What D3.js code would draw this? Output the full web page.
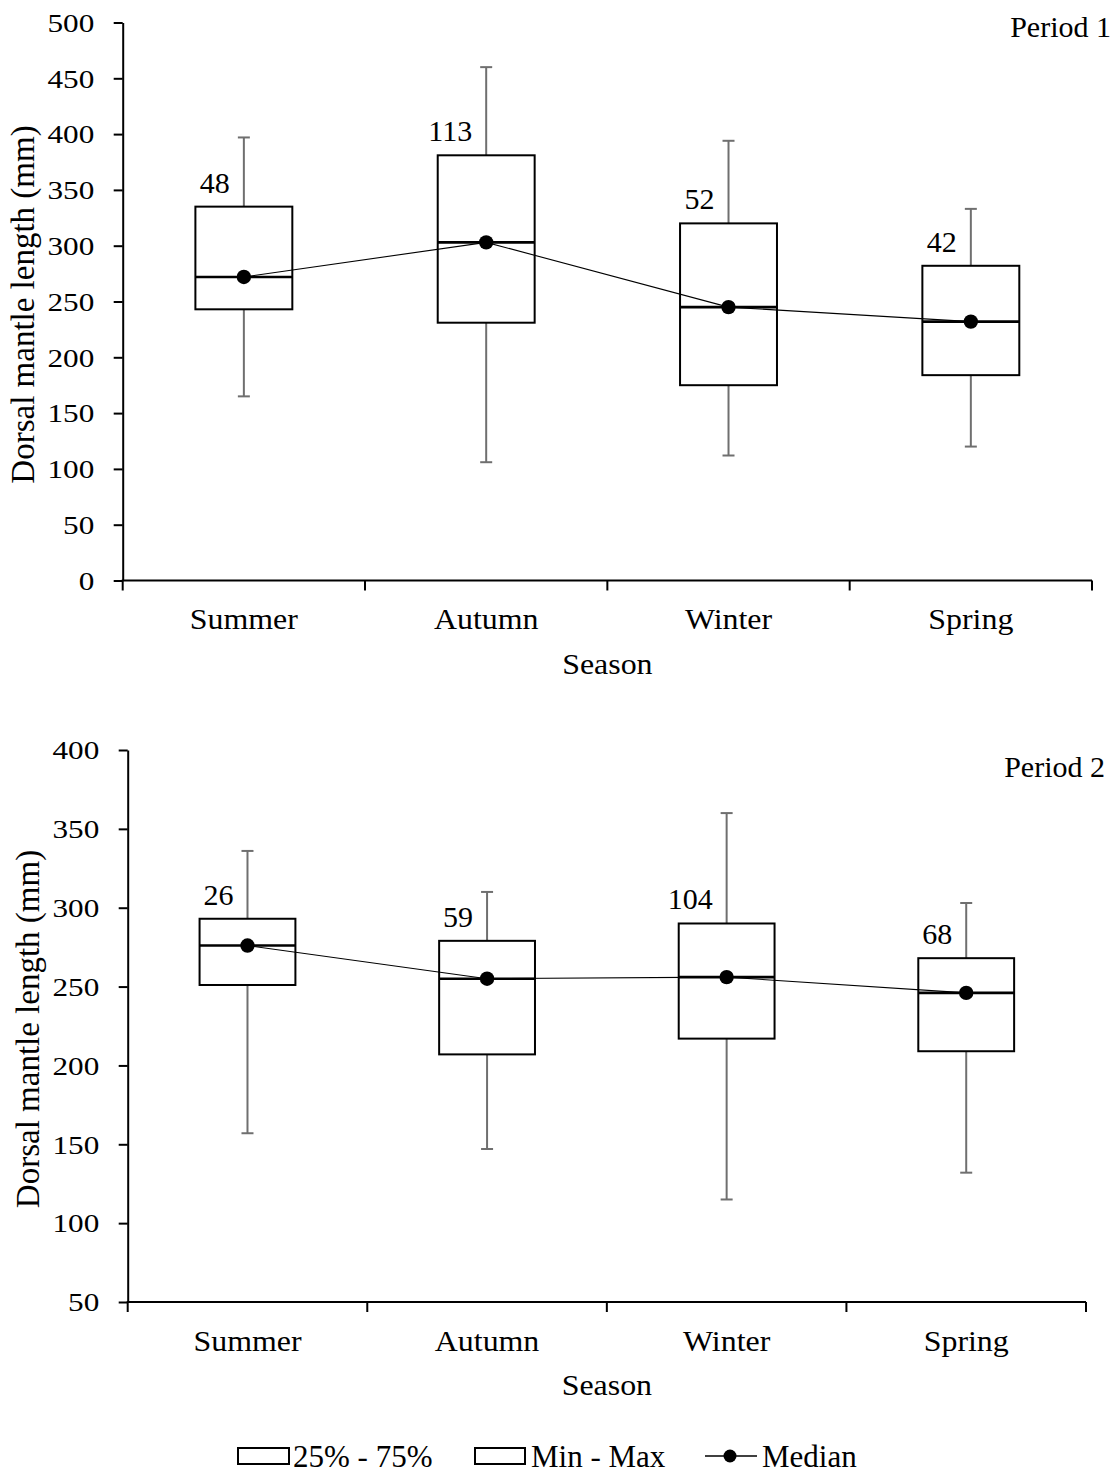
<!DOCTYPE html>
<html>
<head>
<meta charset="utf-8">
<script src="https://cdn.jsdelivr.net/npm/d3@7"></script>
<style>
  html, body { margin: 0; padding: 0; background: #fff; }
  svg { display: block; }
  text { font-family: "Liberation Serif", "Times New Roman", serif; fill: #000; }
</style>
</head>
<body>
<svg id="chart" width="1115" height="1476"></svg>
<script>
// ---------- data ----------
const categories = ["Summer", "Autumn", "Winter", "Spring"];

const p1Min    = [165, 106, 112, 120];
const p1Q1     = [243, 231, 175, 184];
const p1Median = [272, 303, 245, 232];
const p1Q3     = [335, 381, 320, 282];
const p1Max    = [397, 460, 394, 333];
const p1N      = [48, 113, 52, 42];
const p1Ticks  = [0, 50, 100, 150, 200, 250, 300, 350, 400, 450, 500];

const p2Min    = [157, 147, 115, 132];
const p2Q1     = [251, 207, 217, 209];
const p2Median = [276, 255, 256, 246];
const p2Q3     = [293, 279, 290, 268];
const p2Max    = [336, 310, 360, 303];
const p2N      = [26, 59, 104, 68];
const p2Ticks  = [50, 100, 150, 200, 250, 300, 350, 400];

const yTitle = "Dorsal mantle length (mm)";
const xTitle = "Season";
const legendLabels = ["25% - 75%", "Min - Max", "Median"];

// ---------- layout ----------
const panels = [
  { title: "Period 1", min: p1Min, q1: p1Q1, med: p1Median, q3: p1Q3, max: p1Max, n: p1N,
    ticks: p1Ticks, domain: [0, 500], x0: 122.7, x1: 1092, yTop: 22.5, yBot: 580.5,
    titleX: 1111, titleY: 37 },
  { title: "Period 2", min: p2Min, q1: p2Q1, med: p2Median, q3: p2Q3, max: p2Max, n: p2N,
    ticks: p2Ticks, domain: [50, 400], x0: 127.7, x1: 1086, yTop: 750, yBot: 1302,
    titleX: 1105, titleY: 777 }
];

const svg = d3.select("#chart");
const whiskerColor = "#6f6f6f";

panels.forEach(p => {
  const g = svg.append("g");
  const x = d3.scaleBand().domain(categories).range([p.x0, p.x1])
    .paddingInner(0.6).paddingOuter(0.3);
  const y = d3.scaleLinear().domain(p.domain).range([p.yBot, p.yTop]);
  const step = x.step();
  const cx = c => x(c) + x.bandwidth() / 2;

  // y axis
  const yAxis = d3.axisLeft(y).tickValues(p.ticks).tickSize(9).tickSizeOuter(0)
    .tickFormat(d3.format("d"));
  const ya = g.append("g").attr("transform", `translate(${p.x0},0)`).call(yAxis);
  ya.select(".domain").attr("stroke", "#000").attr("stroke-width", 2);
  ya.selectAll(".tick line").attr("stroke", "#000").attr("stroke-width", 2);
  ya.selectAll(".tick text")
    .attr("font-size", 26)
    .attr("x", -28.4 / 1.2)
    .attr("dy", "0.34em")
    .attr("transform", "scale(1.2,1)")
    .style("font-family", '"Liberation Serif", "Times New Roman", serif');

  // x axis line + boundary ticks
  g.append("line")
    .attr("x1", p.x0 - 1).attr("x2", p.x1)
    .attr("y1", p.yBot).attr("y2", p.yBot)
    .attr("stroke", "#000").attr("stroke-width", 2);
  const bounds = d3.range(categories.length + 1).map(i => p.x0 + i * step);
  g.selectAll(".xb").data(bounds).join("line")
    .attr("x1", d => d).attr("x2", d => d)
    .attr("y1", p.yBot).attr("y2", p.yBot + 10)
    .attr("stroke", "#000").attr("stroke-width", 2);

  // category labels
  const xAxis = d3.axisBottom(x).tickSize(0).tickSizeOuter(0);
  const xa = g.append("g").attr("transform", `translate(0,${p.yBot})`).call(xAxis);
  xa.select(".domain").remove();
  xa.selectAll(".tick text")
    .attr("font-size", 29)
    .attr("y", 49).attr("dy", 0)
    .attr("transform", "scale(1.1,1)")
    .style("font-family", '"Liberation Serif", "Times New Roman", serif');

  // axis titles
  g.append("text")
    .attr("text-anchor", "middle")
    .attr("font-size", 29)
    .attr("transform", `translate(${(p.x0 + p.x1) / 2},${p.yBot + 93}) scale(1.1,1)`)
    .text(xTitle);
  g.append("text")
    .attr("text-anchor", "middle")
    .attr("font-size", 33)
    .attr("transform", `translate(${p.x0 - 89},${(p.yTop + p.yBot) / 2 + 3}) rotate(-90)`)
    .text(yTitle);

  // period label
  g.append("text")
    .attr("text-anchor", "end")
    .attr("font-size", 30)
    .attr("x", p.titleX).attr("y", p.titleY)
    .text(p.title);

  const idx = categories.map((c, i) => i);

  // whiskers
  const capW = 12;
  idx.forEach(i => {
    const c = cx(categories[i]);
    const segs = [[p.q3[i], p.max[i]], [p.q1[i], p.min[i]]];
    segs.forEach(([a, b]) => {
      g.append("line").attr("x1", c).attr("x2", c)
        .attr("y1", y(a)).attr("y2", y(b))
        .attr("stroke", whiskerColor).attr("stroke-width", 2);
      g.append("line").attr("x1", c - capW / 2).attr("x2", c + capW / 2)
        .attr("y1", y(b)).attr("y2", y(b))
        .attr("stroke", whiskerColor).attr("stroke-width", 2);
    });
  });

  // boxes
  g.selectAll(".box").data(idx).join("rect")
    .attr("x", i => x(categories[i]))
    .attr("width", x.bandwidth())
    .attr("y", i => y(p.q3[i]))
    .attr("height", i => y(p.q1[i]) - y(p.q3[i]))
    .attr("fill", "#fff")
    .attr("stroke", "#000").attr("stroke-width", 2);

  // median lines
  g.selectAll(".medl").data(idx).join("line")
    .attr("x1", i => x(categories[i]))
    .attr("x2", i => x(categories[i]) + x.bandwidth())
    .attr("y1", i => y(p.med[i])).attr("y2", i => y(p.med[i]))
    .attr("stroke", "#000").attr("stroke-width", 2.6);

  // connector line
  const line = d3.line().x(i => cx(categories[i])).y(i => y(p.med[i]));
  g.append("path").datum(idx).attr("d", line)
    .attr("fill", "none").attr("stroke", "#000").attr("stroke-width", 1.1);

  // median dots
  g.selectAll(".dot").data(idx).join("circle")
    .attr("cx", i => cx(categories[i])).attr("cy", i => y(p.med[i]))
    .attr("r", 7.2).attr("fill", "#000");

  // n labels
  g.selectAll(".nlab").data(idx).join("text")
    .attr("text-anchor", "end")
    .attr("font-size", 30)
    .attr("x", i => cx(categories[i]) - 14)
    .attr("y", i => y(p.q3[i]) - 14)
    .text(i => p.n[i]);
});

// ---------- legend ----------
const lg = svg.append("g");
const ly = 1456;
const legendFont = 31;
// box 25-75
lg.append("rect").attr("x", 238).attr("y", ly - 8).attr("width", 51).attr("height", 16)
  .attr("fill", "#fff").attr("stroke", "#000").attr("stroke-width", 2);
lg.append("text").attr("x", 293).attr("y", ly + 11).attr("font-size", legendFont).text(legendLabels[0]);
// min-max
lg.append("rect").attr("x", 475).attr("y", ly - 8).attr("width", 50).attr("height", 16)
  .attr("fill", "#fff").attr("stroke", "#000").attr("stroke-width", 2);
lg.append("text").attr("x", 531).attr("y", ly + 11).attr("font-size", legendFont).text(legendLabels[1]);
// median
lg.append("line").attr("x1", 705).attr("x2", 757).attr("y1", ly).attr("y2", ly)
  .attr("stroke", "#000").attr("stroke-width", 1.5);
lg.append("circle").attr("cx", 730).attr("cy", ly).attr("r", 6.5).attr("fill", "#000");
lg.append("text").attr("x", 762).attr("y", ly + 11).attr("font-size", legendFont).text(legendLabels[2]);
</script>
</body>
</html>
